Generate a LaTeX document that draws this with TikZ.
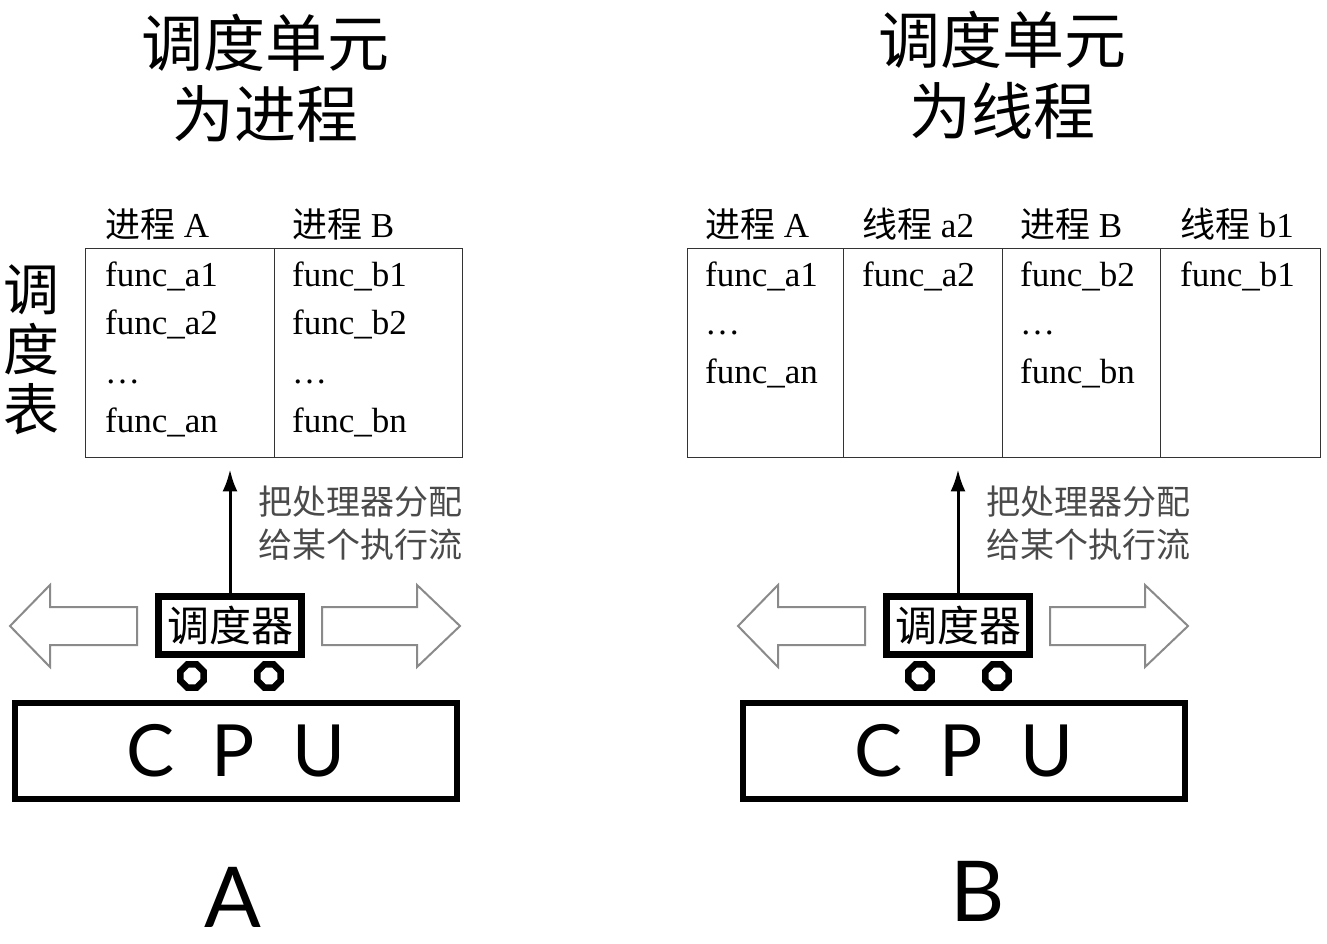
\documentclass[tikz,border=0pt]{standalone}
\usepackage{fontspec}
\usepackage{tikz}
\usetikzlibrary{arrows.meta,positioning,shapes.geometric}
\setmainfont{Liberation Serif}
\newfontfamily\cjk{Noto Sans CJK SC}
\newfontfamily\cpufont{Lato}
\definecolor{TabLine}{HTML}{333333}
\definecolor{NoteGray}{HTML}{4A4A4A}
\definecolor{HollowGray}{HTML}{8A8A8A}
\newcommand\colhead[2]{{\cjk #1} #2}

\begin{document}
\begin{tikzpicture}[x=1pt,y=-1pt,
  cell/.style={draw=TabLine,line width=1.4pt,inner sep=0pt,anchor=north west,minimum height=209pt},
  functxt/.style={anchor=base west,inner sep=0pt,font=\fontsize{35}{35}\selectfont},
  title/.style={align=center,font=\cjk\fontsize{62}{71}\selectfont},
  schedbox/.style={draw,line width=7pt,minimum width=143pt,minimum height=58pt,inner sep=0pt,font=\cjk\fontsize{42}{42}\selectfont},
  wheel/.style={draw,regular polygon,regular polygon sides=8,line width=6.5pt,minimum size=25pt,inner sep=0pt},
  cpubox/.style={draw,line width=6pt,minimum width=442pt,minimum height=96pt,font=\cpufont\fontsize{72}{72}\selectfont},
  note/.style={anchor=west,align=left,text=NoteGray,inner sep=0pt,font=\cjk\fontsize{34}{43}\selectfont},
  hollow/.style={draw=HollowGray,line width=2pt,line join=miter},
  panelname/.style={anchor=base,inner sep=0pt,font=\cpufont\fontsize{84}{84}\selectfont}]
\useasboundingbox (0,0) rectangle (1327,944);

\node[title] (titleA) at (265,78) {调度单元\\为进程};
\node[title] (titleB) at (1002,75) {调度单元\\为线程};
\node[align=center,font=\cjk\fontsize{56}{60}\selectfont] (tabname) at (32,350) {调\\度\\表};

% left table: one column per process
\node[cell,minimum width=189pt] (pa) at (85,248) {};
\node[cell,minimum width=188pt] (pb) at (274,248) {};
\node[functxt] (hpa) at (105,237) {\colhead{进程}{A}};
\node[functxt] (hpb) at (292,237) {\colhead{进程}{B}};
\foreach \t [count=\i] in {func\_a1,func\_a2,\dots,func\_an}{\node[functxt] (fa\i) at (105,{237.5+48.7*\i}) {\t};}
\foreach \t [count=\i] in {func\_b1,func\_b2,\dots,func\_bn}{\node[functxt] (fb\i) at (292,{237.5+48.7*\i}) {\t};}

% right table: one column per thread
\node[cell,minimum width=156pt] (qa) at (687,248) {};
\node[cell,minimum width=159pt] (qb) at (843,248) {};
\node[cell,minimum width=158pt] (qc) at (1002,248) {};
\node[cell,minimum width=160pt] (qd) at (1160,248) {};
\node[functxt] (hqa) at (705,237) {\colhead{进程}{A}};
\node[functxt] (hqb) at (862,237) {\colhead{线程}{a2}};
\node[functxt] (hqc) at (1020,237) {\colhead{进程}{B}};
\node[functxt] (hqd) at (1180,237) {\colhead{线程}{b1}};
\foreach \t [count=\i] in {func\_a1,\dots,func\_an}{\node[functxt] (ga\i) at (705,{237.5+48.7*\i}) {\t};}
\node[functxt] (gb1) at (862,286) {func\_a2};
\foreach \t [count=\i] in {func\_b2,\dots,func\_bn}{\node[functxt] (gc\i) at (1020,{237.5+48.7*\i}) {\t};}
\node[functxt] (gd1) at (1180,286) {func\_b1};

% scheduler on the cpu, both panels
\foreach \dx/\s/\tg/\lx/\ly in {0/A/pa/233/927,728/B/qb/250/921}{
\begin{scope}[xshift=\dx pt]
\draw[hollow] (137,607) -- (50,607) -- (50,585) -- (10,626) -- (50,667) -- (50,645) -- (137,645) -- cycle;
\draw[hollow] (322,607) -- (417,607) -- (417,585) -- (460,626) -- (417,667) -- (417,645) -- (322,645) -- cycle;
\node[schedbox] (sched\s) at (230,625) {调度器};
\node[wheel] (wl\s) at (192,676) {};
\node[wheel] (wr\s) at (269,676) {};
\node[cpubox] (cpu\s) at (236,751) {C\hspace{37pt}P\hspace{37pt}U};
\node[note] (note\s) at (258,523) {把处理器分配\\给某个执行流};
\node[panelname] (name\s) at (\lx,\ly) {\s};
\end{scope}
\draw[line width=3pt,-{Latex[length=22pt,width=15pt]},shorten >=11pt] (sched\s.north) -- (sched\s.north |- \tg.south);
}
\end{tikzpicture}
\end{document}
